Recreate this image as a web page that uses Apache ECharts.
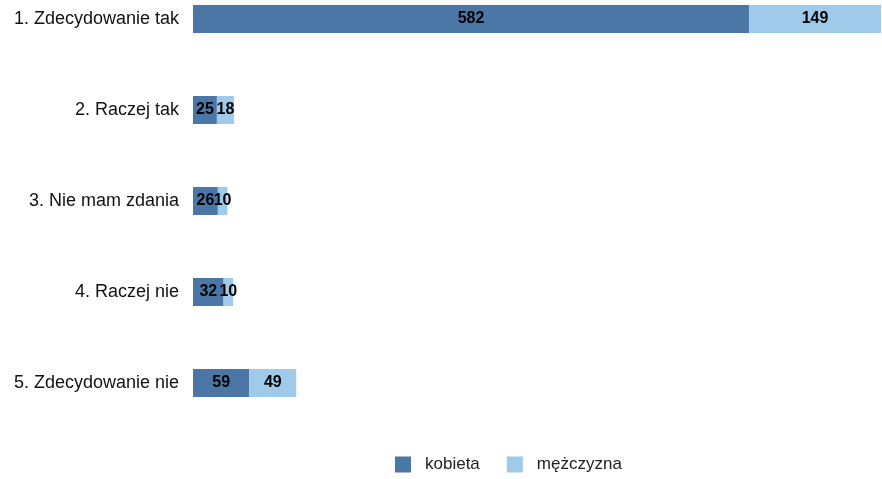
<!DOCTYPE html>
<html>
<head>
<meta charset="utf-8">
<script src="https://cdn.jsdelivr.net/npm/echarts@6/dist/echarts.min.js"></script>
<style>
html,body{margin:0;padding:0;background:#fff;}
#chart{width:882px;height:479px;}
</style>
</head>
<body>
<div id="chart"></div>
<script>
// dane
var categories = ['1. Zdecydowanie tak', '2. Raczej tak', '3. Nie mam zdania', '4. Raczej nie', '5. Zdecydowanie nie'];
var kobieta = [582, 25, 26, 32, 59];
var mezczyzna = [149, 18, 10, 10, 49];

var myChart = echarts.init(document.getElementById('chart'));
var labelStyle = {
  show: true,
  position: 'inside',
  color: '#000',
  fontWeight: 'bold',
  fontSize: 16,
  fontFamily: 'Liberation Sans'
};
var option = {
  animation: false,
  textStyle: {fontFamily: 'Liberation Sans'},
  grid: {left: 193, right: 1, top: -26.5, height: 455, outerBoundsMode: 'none'},
  legend: {
    left: 395,
    top: 456,
    padding: 0,
    itemWidth: 16,
    itemHeight: 16,
    itemGap: 27,
    icon: 'rect',
    textStyle: {fontSize: 17, color: '#222', padding: [0, 0, 0, 9]},
    data: ['kobieta', 'mężczyzna']
  },
  xAxis: {
    type: 'value',
    min: 0,
    max: 720,
    show: false
  },
  yAxis: {
    type: 'category',
    inverse: true,
    data: categories,
    axisLine: {show: false},
    axisTick: {show: false},
    axisLabel: {fontSize: 18, color: '#111', margin: 14}
  },
  series: [
    {
      name: 'kobieta',
      type: 'bar',
      stack: 'all',
      barWidth: 28,
      data: kobieta,
      itemStyle: {color: '#4b77a6'},
      label: labelStyle
    },
    {
      name: 'mężczyzna',
      type: 'bar',
      stack: 'all',
      barWidth: 28,
      data: mezczyzna,
      itemStyle: {color: '#9fcae9'},
      label: labelStyle
    }
  ]
};
myChart.setOption(option);
</script>
</body>
</html>
